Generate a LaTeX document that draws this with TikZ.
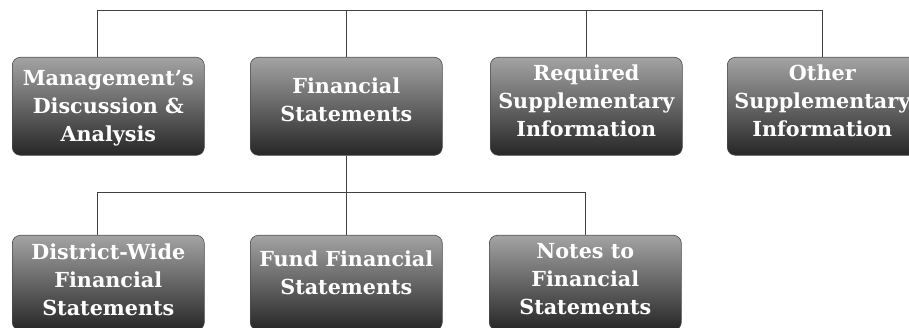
\documentclass[tikz,border=0pt]{standalone}
\usepackage{fontspec}
\setmainfont{DejaVu Serif}
\begin{document}
\begin{tikzpicture}[x=1pt,y=1pt,
  box/.style={rounded corners=8pt, minimum width=192pt, minimum height=98pt,
    top color=black!36, bottom color=black!85, draw=black!70, line width=0.6pt,
    text=white, font=\fontsize{20.7}{28}\selectfont\bfseries, align=center,
    inner sep=0pt, anchor=north west},
  lift/.style={text depth=#1},
  link/.style={draw=black!75, line width=0.8pt}]
\useasboundingbox (0,0) rectangle (909,328);
\begin{scope}
\clip (0,0) rectangle (909,328);
% upper row
\node[box, lift=0pt] (mda) at (12,271) {Management's\\Discussion \&\\Analysis};
\node[box, lift=14pt] (fin) at (250,271) {Financial\\Statements};
\node[box, lift=12pt] (rsi) at (490,271) {Required\\Supplementary\\Information};
\node[box, lift=12pt, minimum width=190pt] (osi) at (727,271) {Other\\Supplementary\\Information};
% lower row
\node[box, minimum height=95pt, lift=7pt] (dw) at (12,93) {District-Wide\\Financial\\Statements};
\node[box, minimum height=95pt, lift=20pt] (fund) at (250,93) {Fund Financial\\Statements};
\node[box, minimum height=95pt, lift=7pt] (notes) at (489,93) {Notes to\\Financial\\Statements};
\end{scope}
% bus lines
\coordinate (top) at (0,318);
\coordinate (mid) at (0,136);
\draw[link] ([xshift=-11pt]mda.north) |- (top -| osi.north) -- (osi.north);
\draw[link] (fin.north) -- (fin.north |- top);
\draw[link] (rsi.north) -- (rsi.north |- top);
\draw[link] (fin.south) -- (fin.south |- mid);
\draw[link] ([xshift=-11pt]dw.north) |- (mid -| notes.north) -- (notes.north);
\draw[link] (fund.north) -- (fund.north |- mid);
\end{tikzpicture}
\end{document}
